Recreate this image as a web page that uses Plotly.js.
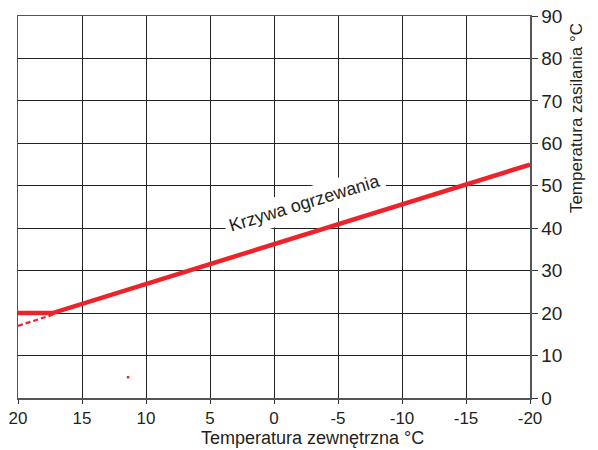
<!DOCTYPE html>
<html><head><meta charset="utf-8">
<script src="https://cdn.plot.ly/plotly-3.0.1.min.js"></script>
<style>body{margin:0;background:#fff}</style></head>
<body><div id="chart" style="width:598px;height:450px"></div>
<script>
const curveX = [20, 17.3, -20];
const curveY = [20, 20, 55];
const dashX = [20, 17.3];
const dashY = [17, 19.6];
const dotX = [11.4];
const dotY = [4.9];
const xTicks = [20, 15, 10, 5, 0, -5, -10, -15, -20];
const yTicks = [0, 10, 20, 30, 40, 50, 60, 70, 80, 90];
const labelText = 'Krzywa ogrzewania';
const labelX = -2.4, labelY = 46;
const xTitle = 'Temperatura zewnętrzna °C';
const yTitle = 'Temperatura zasilania °C';
const red = '#ee2229';

const data = [
  {x: curveX, y: curveY, mode: 'lines', line: {color: red, width: 4.5}, hoverinfo: 'skip'},
  {x: dashX, y: dashY, mode: 'lines', line: {color: red, width: 2.2, dash: '5px,3px'}, hoverinfo: 'skip'},
  {x: dotX, y: dotY, mode: 'markers', marker: {color: red, size: 2.5, symbol: 'square'}, hoverinfo: 'skip'}
];
const fam = 'Liberation Sans, Arial, sans-serif';
const txt = '#231f20';
const layout = {
  width: 598, height: 450, showlegend: false,
  margin: {l: 18, r: 68, t: 16, b: 52},
  paper_bgcolor: '#fff', plot_bgcolor: '#fff',
  font: {family: fam, color: txt},
  xaxis: {
    range: [20, -20], tickvals: xTicks, ticktext: xTicks.map(String),
    ticks: 'outside', ticklen: 4, tickcolor: '#333', tickfont: {size: 17, family: fam, color: txt},
    showgrid: true, gridcolor: '#222', gridwidth: 1, zeroline: false,
    showline: true, linecolor: '#555', linewidth: 1.5, mirror: true
  },
  yaxis: {
    range: [0, 90], side: 'right', tickvals: yTicks, ticktext: yTicks.map(String),
    ticks: 'outside', ticklen: 6, tickcolor: '#333', tickfont: {size: 19, family: fam, color: txt},
    showgrid: true, gridcolor: '#222', gridwidth: 1, zeroline: false,
    showline: true, linecolor: '#555', linewidth: 1.5, mirror: true
  },
  annotations: [{
    x: labelX, y: labelY, xref: 'x', yref: 'y', text: labelText, showarrow: false,
    textangle: -17, bgcolor: '#fff', borderpad: 4,
    font: {size: 18, family: fam, color: txt}
  }, {
    x: 0.576, y: -0.106, xref: 'paper', yref: 'paper', text: xTitle, showarrow: false,
    xanchor: 'center', yanchor: 'middle', borderpad: 0, font: {size: 18, family: fam, color: txt}
  }, {
    x: 1.092, y: 0.733, xref: 'paper', yref: 'paper', text: yTitle, showarrow: false,
    textangle: -90, xanchor: 'center', yanchor: 'middle', font: {size: 17, family: fam, color: txt}
  }]
};
Plotly.newPlot('chart', data, layout, {displayModeBar: false, staticPlot: true});
</script></body></html>
